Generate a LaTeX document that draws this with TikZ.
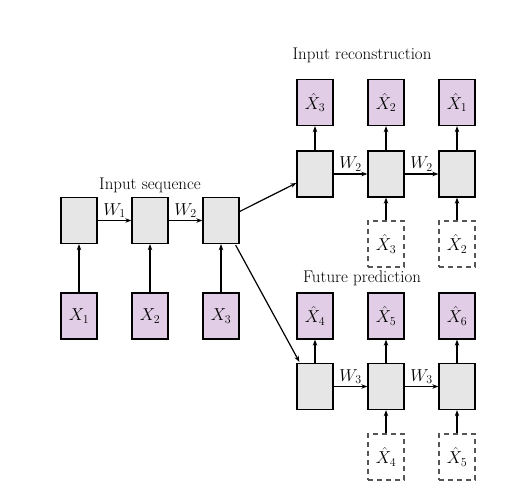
\documentclass[tikz,border=0pt]{standalone}
\usetikzlibrary{arrows.meta,calc}
\definecolor{boxgray}{RGB}{230,230,230}
\definecolor{boxpurple}{RGB}{225,206,230}
\definecolor{dashgray}{RGB}{85,85,85}
\begin{document}
\begin{tikzpicture}[x=1pt,y=-1pt,
  font=\fontsize{16.9}{20}\selectfont,
  cell/.style={draw, fill=boxgray, minimum width=36pt, minimum height=46pt, line width=1.3pt, inner sep=0pt},
  inbox/.style={draw, fill=boxpurple, minimum width=36pt, minimum height=46pt, line width=1.3pt, inner sep=0pt},
  dbox/.style={draw=dashgray, dash pattern=on 5pt off 4pt, minimum width=36pt, minimum height=46pt, line width=1.3pt, inner sep=0pt},
  conn/.style={-{Stealth[length=6pt,width=4.5pt]}, line width=1.2pt},
  wlab/.style={above=1pt, inner sep=1pt}]
\useasboundingbox (0,0) rectangle (508,498);
% left row
\node[cell] (l1) at (79,220.5) {};
\node[cell] (l2) at (150,220.5) {};
\node[cell] (l3) at (221,220.5) {};
\node[inbox] (x1) at (79,316) {$X_1$};
\node[inbox] (x2) at (150,316) {$X_2$};
\node[inbox] (x3) at (221,316) {$X_3$};
\node (tin) at (150,185) {Input sequence};
% top right
\node[cell] (r1) at (315,174) {};
\node[cell] (r2) at (386,174) {};
\node[cell] (r3) at (457,174) {};
\node[inbox] (rh1) at (315,102.5) {$\hat{X}_3$};
\node[inbox] (rh2) at (386,102.5) {$\hat{X}_2$};
\node[inbox] (rh3) at (457,102.5) {$\hat{X}_1$};
\node[dbox] (rd2) at (386,244) {$\hat{X}_3$};
\node[dbox] (rd3) at (457,244) {$\hat{X}_2$};
\node (trec) at (362,55) {Input reconstruction};
% bottom right
\node[cell] (f1) at (315,386.5) {};
\node[cell] (f2) at (386,386.5) {};
\node[cell] (f3) at (457,386.5) {};
\node[inbox] (fh1) at (315,316) {$\hat{X}_4$};
\node[inbox] (fh2) at (386,316) {$\hat{X}_5$};
\node[inbox] (fh3) at (457,316) {$\hat{X}_6$};
\node[dbox] (fd2) at (386,457) {$\hat{X}_4$};
\node[dbox] (fd3) at (457,457) {$\hat{X}_5$};
\node (tfut) at (362,278) {Future prediction};
% connectors left
\draw[conn] (l1.east) -- node[wlab] {$W_1$} (l2.west);
\draw[conn] (l2.east) -- node[wlab] {$W_2$} (l3.west);
\draw[conn] (x1.north) -- (l1.south);
\draw[conn] (x2.north) -- (l2.south);
\draw[conn] (x3.north) -- (l3.south);
% branch
\draw[conn] ([yshift=9pt]l3.east) -- ([yshift=-9pt]r1.west);
\draw[conn] ([xshift=-4pt,yshift=-1pt]l3.south east) -- ([xshift=3pt,yshift=1pt]f1.north west);
% top right
\draw[conn] (r1.east) -- node[wlab] {$W_2$} (r2.west);
\draw[conn] (r2.east) -- node[wlab] {$W_2$} (r3.west);
\draw[conn] (r1.north) -- (rh1.south);
\draw[conn] (r2.north) -- (rh2.south);
\draw[conn] (r3.north) -- (rh3.south);
\draw[conn] (rd2.north) -- (r2.south);
\draw[conn] (rd3.north) -- (r3.south);
% bottom right
\draw[conn] (f1.east) -- node[wlab] {$W_3$} (f2.west);
\draw[conn] (f2.east) -- node[wlab] {$W_3$} (f3.west);
\draw[conn] (f1.north) -- (fh1.south);
\draw[conn] (f2.north) -- (fh2.south);
\draw[conn] (f3.north) -- (fh3.south);
\draw[conn] (fd2.north) -- (f2.south);
\draw[conn] (fd3.north) -- (f3.south);
\end{tikzpicture}
\end{document}
